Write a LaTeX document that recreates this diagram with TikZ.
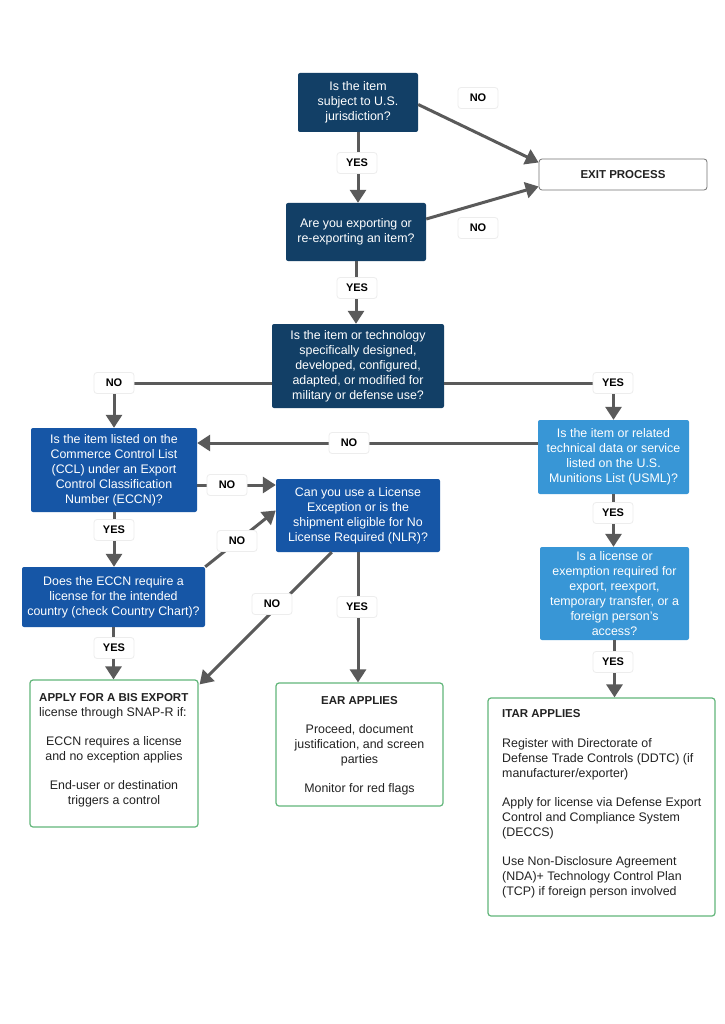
\documentclass[tikz,border=0pt]{standalone}
\usepackage{fontspec}
\setmainfont{Liberation Sans}
\usetikzlibrary{arrows.meta,calc}
\definecolor{navy}{HTML}{123F66}
\definecolor{midblue}{HTML}{1656A6}
\definecolor{lightblue}{HTML}{3896D6}
\definecolor{greenb}{HTML}{62B67A}
\definecolor{arrgray}{HTML}{5A5A5A}
\definecolor{txtgray}{HTML}{222222}
\begin{document}
\begin{tikzpicture}[x=1pt,y=-1pt,
  qbox/.style={rectangle, rounded corners=2pt, text=white, align=center, inner sep=0pt, font=\fontsize{12.4}{15}\selectfont},
  dark/.style={qbox, fill=navy},
  mid/.style={qbox, fill=midblue},
  light/.style={qbox, fill=lightblue},
  endbox/.style={rectangle, rounded corners=3pt, draw=greenb, line width=1.2pt, fill=white, inner sep=0pt},
  lbl/.style={rectangle, rounded corners=3pt, fill=white, draw=black!7, line width=0.8pt, minimum width=40pt, minimum height=21pt, inner sep=0pt, font=\bfseries\fontsize{11}{13}\selectfont},
  arr/.style={draw=arrgray, line width=3pt, -{Triangle[length=13pt,width=16pt]}},
  txt/.style={inner sep=0pt, font=\fontsize{12.4}{15}\selectfont, text=txtgray},
  hdr/.style={inner sep=0pt, font=\bfseries\fontsize{11.5}{15}\selectfont, text=txtgray}]
\useasboundingbox[fill=white] (0,0) rectangle (724,1024);

% question boxes
\node[dark, minimum width=120pt, minimum height=59pt] (q1) at (358,102.5) {Is the item\\subject to U.S.\\jurisdiction?};
\node[rectangle, rounded corners=3pt, draw=black!55, line width=0.8pt, fill=white, minimum width=168pt, minimum height=31pt, font=\bfseries\fontsize{11.5}{14}\selectfont, text=txtgray] (exit) at (623,174.5) {EXIT PROCESS};
\node[dark, minimum width=140pt, minimum height=58pt] (q2) at (356,232) {Are you exporting or\\re-exporting an item?};
\node[dark, minimum width=172pt, minimum height=84pt] (q3) at (358,366) {Is the item or technology\\specifically designed,\\developed, configured,\\adapted, or modified for\\military or defense use?};
\node[mid, minimum width=166pt, minimum height=84pt] (q4) at (114,470) {Is the item listed on the\\Commerce Control List\\(CCL) under an Export\\Control Classification\\Number (ECCN)?};
\node[mid, minimum width=164pt, minimum height=73pt] (q5) at (358,515.5) {Can you use a License\\Exception or is the\\shipment eligible for No\\License Required (NLR)?};
\node[mid, minimum width=183pt, minimum height=60pt] (q6) at (113.5,597) {Does the ECCN require a\\license for the intended\\country (check Country Chart)?};
\node[light, minimum width=151pt, minimum height=74pt] (q7) at (613.5,457) {Is the item or related\\technical data or service\\listed on the U.S.\\Munitions List (USML)?};
\node[light, minimum width=149pt, minimum height=93pt] (q8) at (614.5,593.5) {Is a license or\\exemption required for\\export, reexport,\\temporary transfer, or a\\foreign person's\\access?};

% end boxes
\node[endbox, minimum width=168pt, minimum height=147pt] (apply) at (114,753.5) {};
\node[endbox, minimum width=167pt, minimum height=123pt] (ear) at (359.5,744.5) {};
\node[endbox, minimum width=227pt, minimum height=218pt] (itar) at (601.5,807) {};

\node[hdr, anchor=west] (applyh) at (39,698) {APPLY FOR A BIS EXPORT};
\node[txt, anchor=west] (applys) at (39,713) {license through SNAP-R if:};
\node[txt, align=center] (applya) at (114,749.5) {ECCN requires a license\\and no exception applies};
\node[txt, align=center] (applyb) at (114,793.5) {End-user or destination\\triggers a control};

\node[hdr] (earh) at (359.5,701) {EAR APPLIES};
\node[txt, align=center] (eara) at (359.5,745) {Proceed, document\\justification, and screen\\parties};
\node[txt] (earb) at (359.5,789) {Monitor for red flags};

\node[hdr, anchor=west] (itarh) at (502,714) {ITAR APPLIES};
\node[txt, anchor=west, align=left] (itara) at (502,759) {Register with Directorate of\\Defense Trade Controls (DDTC) (if\\manufacturer/exporter)};
\node[txt, anchor=west, align=left] (itarb) at (502,818) {Apply for license via Defense Export\\Control and Compliance System\\(DECCS)};
\node[txt, anchor=west, align=left] (itarc) at (502,877) {Use Non-Disclosure Agreement\\(NDA)+ Technology Control Plan\\(TCP) if foreign person involved};

% connectors
\draw[arr] ($(q1.east)+(0,2)$) -- ($(exit.west)+(0,-12)$);
\draw[arr] (q1.south) -- (q1.south |- q2.north);
\draw[arr] ($(q2.east)+(0,-13)$) -- ($(exit.west)+(0,12)$);
\draw[arr] (q2.south) -- (q2.south |- q3.north);
\draw[arr] ($(q3.west)+(0,17)$) -| (q4.north);
\draw[arr] ($(q3.east)+(0,17)$) -| (q7.north);
\coordinate (c7) at ($(q7.west)+(0,-14)$);
\draw[arr] (c7) -- (c7 -| q4.east);
\coordinate (c4) at ($(q4.east)+(0,15)$);
\draw[arr] (c4) -- (c4 -| q5.west);
\draw[arr] (q4.south) -- (q4.south |- q6.north);
\draw[arr] (q6.north east) -- ($(q5.west)+(0,-5)$);
\draw[arr] ($(q5.south west)+(56,0)$) -- ($(apply.north east)+(1,5)$);
\draw[arr] (q5.south) -- (q5.south |- ear.north);
\draw[arr] (q7.south) -- (q7.south |- q8.north);
\draw[arr] (q6.south) -- (q6.south |- apply.north);
\draw[arr] (q8.south) -- (q8.south |- itar.north);

% labels
\node[lbl] (l1) at (478,98) {NO};
\node[lbl] (l2) at (357,163) {YES};
\node[lbl] (l3) at (478,228) {NO};
\node[lbl] (l4) at (357,288) {YES};
\node[lbl] (l5) at (114,383) {NO};
\node[lbl] (l6) at (613,383) {YES};
\node[lbl] (l7) at (349,443) {NO};
\node[lbl] (l8) at (227,485) {NO};
\node[lbl] (l9) at (114,530) {YES};
\node[lbl] (l10) at (237,541) {NO};
\node[lbl] (l11) at (272,604) {NO};
\node[lbl] (l12) at (357,607) {YES};
\node[lbl] (l13) at (613,513) {YES};
\node[lbl] (l14) at (114,648) {YES};
\node[lbl] (l15) at (613,662) {YES};
\end{tikzpicture}
\end{document}
